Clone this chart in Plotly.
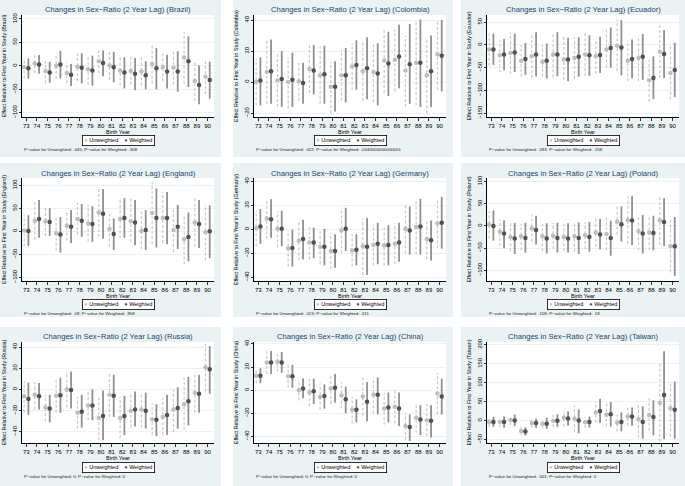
import plotly.graph_objects as go

# ---------------- data ----------------
YEARS = list(range(73, 91))
X_TICK_LABELS = [str(y) for y in YEARS]
COUNTRIES = ["Brazil", "Colombia", "Ecuador", "England", "Germany", "Poland", "Russia", "China", "Taiwan"]

BRAZIL_U = [-3, 5, -11, 0, -15, -2, -7, 10, 1, -10, -11, -12, 4, -3, -4, 18, -32, -23]
BRAZIL_U_LO = [-27, -15, -37, -28, -37, -32, -40, -15, -30, -42, -40, -42, -38, -33, -40, -38, -75, -60]
BRAZIL_U_HI = [17, 23, 10, 27, 7, 27, 22, 36, 32, 23, 22, 20, 47, 28, 33, 73, 8, 15]
BRAZIL_W = [-5, 3, -14, 3, -19, -4, -10, 6, -3, -14, -17, -20, -5, -12, -12, 10, -41, -30]
BRAZIL_W_LO = [-27, -17, -36, -27, -43, -37, -42, -22, -35, -48, -52, -50, -50, -48, -55, -45, -82, -70]
BRAZIL_W_HI = [16, 23, 9, 32, 4, 27, 22, 33, 30, 18, 17, 10, 38, 24, 31, 63, 1, 9]

COLOMBIA_U = [0, 6.5, 1, 0, 0.5, 8.5, 4.5, -3, 4.5, 10, 7, 6.5, 14, 14.5, 7.5, 12.5, 4.5, 18]
COLOMBIA_U_LO = [-15, -14, -16, -17, -12, -7, -14, -20, -12, -5, -12, -13, -7, -6, -16, -15, -20, -5]
COLOMBIA_U_HI = [15, 27, 18, 16, 13, 24, 23, 13, 21, 25, 26, 25.5, 35, 34, 30, 40, 28, 40]
COLOMBIA_W = [1, 7, 2, 1.5, -0.5, 7.5, 5, -3, 4.5, 11, 9, 5.5, 12, 16.5, 11.5, 12.5, 7, 17]
COLOMBIA_W_LO = [-15, -14, -16, -16, -14, -8, -14, -19, -13, -5, -11, -15, -9, -4, -14, -16, -16, -6]
COLOMBIA_W_HI = [16, 27.5, 20, 19, 12.5, 24, 23.5, 13.5, 22, 27, 29, 25, 32.5, 37, 37.5, 40.5, 30, 40]

ECUADOR_U = [-10, -23, -18, -35, -25, -37, -21, -32, -29, -21, -25, -10, -2, -35, -29, -78, -15, -62]
ECUADOR_U_LO = [-46, -60, -64, -70, -73, -70, -71, -77, -75, -69, -64, -50, -58, -80, -80, -125, -73, -120]
ECUADOR_U_HI = [25, 10, 27, 0, 25, 0, 27, 18, 17, 26, 14, 35, 56, 10, 20, -33, 44, -3]
ECUADOR_W = [-10, -21, -17, -31, -21, -35, -21, -32, -26, -23, -22, -7, -6, -31, -26, -73, -20, -55]
ECUADOR_W_LO = [-44, -56, -60, -66, -69, -74, -69, -80, -70, -68, -62, -50, -67, -74, -77, -119, -73, -115]
ECUADOR_W_HI = [25, 13, 25, 4, 28, 3, 28, 16, 17, 21, 18, 38, 55, 12, 24, -25, 33, 5]

ENGLAND_U = [2, 23, 22, -4, 12, 27, 17, 41, 5, 27, 22, 1, 40, 29, 3, -17, 19, -2]
ENGLAND_U_LO = [-33, -18, -10, -42, -20, -8, -22, -12, -33, -15, -23, -38, -28, -25, -45, -72, -33, -63]
ENGLAND_U_HI = [36, 63, 50, 33, 45, 62, 57, 95, 38, 70, 72, 43, 106, 85, 48, 38, 74, 58]
ENGLAND_W = [1, 27, 20, -7, 10, 23, 16, 38, -6, 29, 19, 3, 29, 29, 10, -12, 16, 0]
ENGLAND_W_LO = [-32, -14, -10, -46, -25, -12, -23, -16, -40, -14, -30, -40, -35, -28, -38, -65, -36, -58]
ENGLAND_W_HI = [35, 68, 50, 31, 46, 59, 55, 92, 28, 72, 68, 46, 93, 85, 57, 41, 68, 56]

GERMANY_U = [1, 9, 0.5, -16, -9.5, -11, -14.5, -18, -1, -17.5, -14, -13, -13.5, -12, 0.5, 2, -8, 5]
GERMANY_U_LO = [-14, -8, -15, -31, -26, -25, -29, -33, -20, -31, -38, -30, -30, -29, -20, -21, -25, -16]
GERMANY_U_HI = [16, 24, 15, -1, 7, 2, 0, -3, 18, -4, 9, 4, 3, 5, 21, 25, 8, 26]
GERMANY_W = [2.5, 8.5, 0.5, -15.5, -8, -11, -14.5, -18, 0.5, -17, -14.5, -12, -13, -11, -1, 2.5, -9, 5.5]
GERMANY_W_LO = [-12, -7, -14, -31, -25, -24, -30, -32, -18, -30, -38, -29, -30, -27, -21, -21, -26, -16]
GERMANY_W_HI = [17, 25, 15.5, 0, 8, 1.5, 0.5, -4, 18, -4, 9.5, 5.5, 3.5, 5.5, 19, 25.5, 7.5, 27]

POLAND_U = [3, -13, -25, -23, -5, -23, -22, -25, -23, -21, -15, -18, 10, 13, -12, -15, 13, -45]
POLAND_U_LO = [-28, -45, -57, -55, -35, -57, -52, -57, -58, -52, -47, -55, -20, -40, -55, -55, -43, -105]
POLAND_U_HI = [33, 15, 7, 5, 25, 5, 8, 5, 10, 8, 17, 20, 45, 67, 25, 22, 68, 15]
POLAND_W = [0, -17, -28, -27, -9, -28, -27, -28, -27, -25, -19, -27, 4, 12, -17, -16, 9, -46]
POLAND_W_LO = [-33, -50, -63, -60, -42, -62, -60, -60, -63, -58, -53, -67, -35, -43, -62, -55, -45, -113]
POLAND_W_HI = [35, 13, 7, 7, 23, 6, 7, 6, 8, 9, 16, 12, 44, 68, 25, 23, 63, 20]

RUSSIA_U = [-6.5, -5, -17, -6, 0, -22, -15, -27, -5, -27, -20, -19, -28, -26, -19, -14, -3, 21]
RUSSIA_U_LO = [-22, -19, -30, -22, -17, -37, -29, -48, -26, -46, -36, -36, -43, -43, -40, -38, -22, -2]
RUSSIA_U_HI = [8, 7, -5, 10, 17, -7, -1, -7, 16, -7, -4, -3, -13, -8, 0, 11, 16, 43]
RUSSIA_W = [-9, -6.5, -18, -5.5, -0.5, -21, -15, -25, -6, -25, -19, -20, -28.5, -24, -17.5, -11, -4, 19]
RUSSIA_W_LO = [-24, -19, -31, -22, -18, -36, -29, -48, -26, -43, -35, -37, -44, -43, -37, -34, -22, -4]
RUSSIA_W_HI = [6.5, 6, -5, 11, 17, -5, 0, -1, 14, -6, -2, -3, -14, -5, 2, 12, 14, 41]

CHINA_U = [12.5, 24, 24.5, 12, 0, -2, -6, 1.5, -4.5, -17, -5.5, -4, -16, -14.5, -31, -24, -26, -3]
CHINA_U_LO = [6, 14, 16, 2, -9, -14, -17, -12, -16, -29, -22, -20, -30, -29, -43, -37, -40, -21]
CHINA_U_HI = [19, 34, 33, 22, 9, 10, 6, 14, 7, -6, 11, 11, -2, 1, -20, -12, -12, 15]
CHINA_W = [12.5, 24, 24, 12, 1.5, -1, -5, 2, -8, -17, -10, -4, -15, -16, -32, -25.5, -26.5, -5.5]
CHINA_W_LO = [6, 14, 15, 2, -7, -12, -16, -11, -20, -28, -27, -21, -28, -31, -44, -39, -41, -21]
CHINA_W_HI = [19, 34, 33, 22, 10, 10, 5, 14, 3, -8, 7, 11, -2, -2, -21, -13, -13, 10]

TAIWAN_U = [-3, -3, 2, -27, -6, -8, 0, 8, 5, -4, 22, 16, -5, 11, 4, 15, 47, 33]
TAIWAN_U_LO = [-17, -17, -12, -37, -18, -21, -17, -15, -30, -18, -5, -15, -28, -13, -45, -26, -55, -42]
TAIWAN_U_HI = [10, 10, 15, -16, 5, 5, 15, 27, 40, 10, 50, 47, 17, 37, 48, 60, 150, 103]
TAIWAN_W = [-3, -3, 1, -28, -6, -8, 0, 6, 1, -3, 26, 17, -3, 11, -3, 10, 68, 29]
TAIWAN_W_LO = [-16, -18, -14, -39, -19, -21, -16, -13, -33, -18, -6, -15, -28, -13, -47, -38, -48, -47]
TAIWAN_W_HI = [10, 11, 16, -17, 5, 8, 17, 25, 30, 11, 58, 49, 22, 35, 38, 54, 183, 103]

P_UNWEIGHTED = [".445", ".022", ".093", ".09", ".013", ".108", "0", "0", ".001"]
P_WEIGHTED = [".308", ".0340000000000001", ".158", ".858", ".011", ".18", "0", "0", "0"]

Y_TICKS = [
    [-100, -50, 0, 50, 100],
    [-20, 0, 20, 40],
    [-150, -100, -50, 0, 50],
    [-100, -50, 0, 50, 100],
    [-40, -20, 0, 20, 40],
    [-100, -50, 0, 50, 100],
    [-40, -20, 0, 20, 40],
    [-40, -20, 0, 20, 40],
    [-50, 0, 50, 100, 150, 200],
]

SERIES = [
    (BRAZIL_U, BRAZIL_U_LO, BRAZIL_U_HI, BRAZIL_W, BRAZIL_W_LO, BRAZIL_W_HI),
    (COLOMBIA_U, COLOMBIA_U_LO, COLOMBIA_U_HI, COLOMBIA_W, COLOMBIA_W_LO, COLOMBIA_W_HI),
    (ECUADOR_U, ECUADOR_U_LO, ECUADOR_U_HI, ECUADOR_W, ECUADOR_W_LO, ECUADOR_W_HI),
    (ENGLAND_U, ENGLAND_U_LO, ENGLAND_U_HI, ENGLAND_W, ENGLAND_W_LO, ENGLAND_W_HI),
    (GERMANY_U, GERMANY_U_LO, GERMANY_U_HI, GERMANY_W, GERMANY_W_LO, GERMANY_W_HI),
    (POLAND_U, POLAND_U_LO, POLAND_U_HI, POLAND_W, POLAND_W_LO, POLAND_W_HI),
    (RUSSIA_U, RUSSIA_U_LO, RUSSIA_U_HI, RUSSIA_W, RUSSIA_W_LO, RUSSIA_W_HI),
    (CHINA_U, CHINA_U_LO, CHINA_U_HI, CHINA_W, CHINA_W_LO, CHINA_W_HI),
    (TAIWAN_U, TAIWAN_U_LO, TAIWAN_U_HI, TAIWAN_W, TAIWAN_W_LO, TAIWAN_W_HI),
]

# ---------------- layout / style ----------------
W, H = 685, 486
FONT = "Liberation Sans, Arial, sans-serif"
BG = "#EAF2F3"
NAVY = "#1A476F"
U_MARK, U_LINE = "#BEBEBE", "#C9C9C9"
W_MARK, W_LINE = "#505050", "#909090"
OFF = 0.2

Y_RANGES = [
    [-109, 108.5], [-22.5, 43.3], [-158.7, 65.8],
    [-107.6, 115.6], [-43, 42.8], [-124, 108],
    [-50.5, 44.8], [-45.8, 41.7], [-58.4, 207],
]
PANEL_X = [(0, 221), (233, 453), (461, 685)]
PANEL_Y = [(0, 157), (163, 317), (327, 486)]
PLOT_X = [(22, 214), (254, 446), (487, 679)]
PLOT_Y = [(15, 117), (178, 281), (342, 443)]
TITLE_Y = [9.5, 173, 336]
LEGEND_Y = [140.5, 304, 467]
PVAL_Y = [149.5, 313, 476.5]

fig = go.Figure()
shapes = []
annotations = []
layout_axes = {}


def px(x):
    return x / W


def py(y):
    return 1 - y / H


for i, country in enumerate(COUNTRIES):
    r, c = divmod(i, 3)
    n = "" if i == 0 else str(i + 1)
    xa, ya = "x" + n, "y" + n
    u, ulo, uhi, w, wlo, whi = SERIES[i]

    # panel background + white plot region
    shapes.append(dict(type="rect", xref="paper", yref="paper", layer="below",
                       x0=px(PANEL_X[c][0]), x1=px(PANEL_X[c][1]),
                       y0=py(PANEL_Y[r][1]), y1=py(PANEL_Y[r][0]),
                       fillcolor=BG, line=dict(width=0)))
    shapes.append(dict(type="rect", xref="paper", yref="paper", layer="below",
                       x0=px(PLOT_X[c][0]), x1=px(PLOT_X[c][1]),
                       y0=py(PLOT_Y[r][1]), y1=py(PLOT_Y[r][0]),
                       fillcolor="white", line=dict(width=0)))

    # intervals
    ux, uy, wx, wy = [], [], [], []
    for k, yr in enumerate(YEARS):
        ux += [yr - OFF, yr - OFF, None]
        uy += [ulo[k], uhi[k], None]
        wx += [yr + OFF, yr + OFF, None]
        wy += [wlo[k], whi[k], None]
    fig.add_trace(go.Scatter(x=ux, y=uy, mode="lines", xaxis=xa, yaxis=ya,
                             line=dict(color=U_LINE, width=1.2, dash="3px,2px"),
                             hoverinfo="skip", showlegend=False))
    fig.add_trace(go.Scatter(x=wx, y=wy, mode="lines", xaxis=xa, yaxis=ya,
                             line=dict(color=W_LINE, width=1.8),
                             hoverinfo="skip", showlegend=False))
    fig.add_trace(go.Scatter(x=[yr - OFF for yr in YEARS], y=u, mode="markers",
                             xaxis=xa, yaxis=ya, name="Unweighted",
                             marker=dict(color=U_MARK, size=4.5, symbol="circle"),
                             showlegend=False))
    fig.add_trace(go.Scatter(x=[yr + OFF for yr in YEARS], y=w, mode="markers",
                             xaxis=xa, yaxis=ya, name="Weighted",
                             marker=dict(color=W_MARK, size=4.5, symbol="circle"),
                             showlegend=False))

    layout_axes["xaxis" + n] = dict(
        domain=[px(PLOT_X[c][0]), px(PLOT_X[c][1])], anchor=ya, automargin=False,
        range=[72.6, 90.6], tickmode="array", tickvals=YEARS, ticktext=X_TICK_LABELS,
        showline=True, linecolor="black", linewidth=1, ticks="outside", ticklen=2.5,
        tickcolor="black", tickwidth=0.8, showgrid=False, zeroline=False,
        tickfont=dict(family=FONT, size=6, color="black"),
        title=dict(text="Birth Year", font=dict(family=FONT, size=5.5, color="black"), standoff=1),
    )
    layout_axes["yaxis" + n] = dict(
        domain=[py(PLOT_Y[r][1]), py(PLOT_Y[r][0])], anchor=xa, automargin=False,
        range=Y_RANGES[i], tickmode="array", tickvals=Y_TICKS[i],
        ticktext=[("−" + str(-t)) if t < 0 else str(t) for t in Y_TICKS[i]],
        tickangle=-90, showline=True, linecolor="black", linewidth=1,
        ticks="outside", ticklen=2, tickcolor="black", tickwidth=0.8,
        showgrid=True, gridcolor=BG, gridwidth=1, zeroline=False,
        tickfont=dict(family=FONT, size=5.8, color="black"),
        title=dict(text=f"Effect Relative to First Year in Study ({country})",
                   font=dict(family=FONT, size=5.3, color="black"), standoff=4),
    )

    cx = px((PLOT_X[c][0] + PLOT_X[c][1]) / 2)
    annotations.append(dict(xref="paper", yref="paper", x=cx, y=py(TITLE_Y[r]),
                            xanchor="center", yanchor="middle", showarrow=False,
                            text=f"Changes in Sex−Ratio (2 Year Lag) ({country})",
                            font=dict(family=FONT, size=7.6, color=NAVY)))
    annotations.append(dict(
        xref="paper", yref="paper", x=cx, y=py(LEGEND_Y[r]), xanchor="center", yanchor="middle",
        showarrow=False, bgcolor="white", bordercolor="black", borderwidth=0.8, borderpad=1.5,
        text=(f'<span style="color:{U_MARK}">●</span> Unweighted&#160;&#160;&#160;&#160;'
              f'<span style="color:{W_MARK}">●</span> Weighted'),
        font=dict(family=FONT, size=5.5, color="black")))
    annotations.append(dict(
        xref="paper", yref="paper", x=px(PLOT_X[c][0]), y=py(PVAL_Y[r]),
        xanchor="left", yanchor="middle", showarrow=False,
        text=f"P−value for Unweighted: {P_UNWEIGHTED[i]}; P−value for Weighted: {P_WEIGHTED[i]}",
        font=dict(family=FONT, size=4.4, color="#222222")))

fig.update_layout(
    width=W, height=H, margin=dict(l=0, r=0, t=0, b=0, autoexpand=False),
    paper_bgcolor="white", plot_bgcolor="white", hovermode=False,
    showlegend=False, shapes=shapes, annotations=annotations,
    font=dict(family=FONT), **layout_axes,
)

fig.write_html("out.html", config={"displayModeBar": False, "staticPlot": True},
               post_script="document.body.style.margin='0';document.body.style.overflow='hidden';")
